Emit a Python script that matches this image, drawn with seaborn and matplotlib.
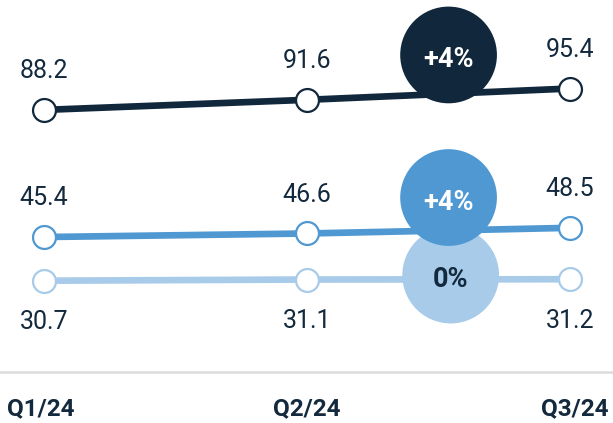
import pandas as pd
import matplotlib.pyplot as plt
import matplotlib.transforms as mtransforms
import seaborn as sns

quarters = ['Q1/24', 'Q2/24', 'Q3/24']
series_names = ['dark', 'mid', 'light']
dark_values = [88.2, 91.6, 95.4]
mid_values = [45.4, 46.6, 48.5]
light_values = [30.7, 31.1, 31.2]

colors = {'dark': '#11273c', 'mid': '#4f98d2', 'light': '#a7cbe8'}
text_color = '#13293d'

values = {'dark': dark_values, 'mid': mid_values, 'light': light_values}

sns.set_theme(style='white')
plt.rcParams['font.family'] = ['Roboto', 'DejaVu Sans']

fig = plt.figure(figsize=(6.13, 4.23), dpi=100)
ax = fig.add_axes([0, 0, 1, 1])

x = list(range(len(quarters)))
for name in series_names:
    c = colors[name]
    df = pd.DataFrame({'x': x, 'v': values[name]})
    sns.lineplot(data=df, x='x', y='v', ax=ax, color=c, linewidth=4.8,
                 marker='o', markersize=16.5, markerfacecolor='white',
                 markeredgecolor=c, markeredgewidth=1.6, zorder=3)
    # value labels: above for the upper two, below for the light one
    offset = -30 if name == 'light' else 28
    for xi, v in zip(x, values[name]):
        ax.annotate(f'{v:.1f}', (xi, v), xytext=(0, offset), textcoords='offset points',
                    ha='center', va='center', fontsize=18, color=text_color, zorder=5)

# change bubbles (Q3 vs Q2)
bubble_pos = {'dark': (1.538, 106.7), 'mid': (1.538, 58.7), 'light': (1.546, 32.6)}
bubble_text = {'dark': 'white', 'mid': 'white', 'light': text_color}
for name in ['dark', 'light', 'mid']:
    bx, by = bubble_pos[name]
    ax.scatter([bx], [by], s=4850, color=colors[name], edgecolor='none', zorder=6)
    change = round((values[name][2] / values[name][1] - 1) * 100)
    label = f'+{change}%' if change > 0 else f'{change}%'
    ax.annotate(label, (bx, by), xytext=(0, -3.5), textcoords='offset points',
                ha='center', va='center', fontsize=19.5, fontweight='bold',
                color=bubble_text[name], zorder=7)

# baseline
ax.axhline(0, color='#dcdcdc', linewidth=1.8, zorder=1)

# quarter labels
trans = mtransforms.blended_transform_factory(ax.transAxes, ax.transData)
ha_list = ['left', 'center', 'right']
xpos = [0.012, 0.5, 0.992]
for q, h, xp in zip(quarters, ha_list, xpos):
    ax.text(xp, -12.3, q, transform=trans, ha=h, va='center', fontsize=17.5,
            fontweight='bold', color=text_color)

ax.set_xlim(-0.167, 2.163)
ax.set_ylim(-17.2, 125.2)
ax.set_axis_off()

fig.savefig('out.png', dpi=100)
